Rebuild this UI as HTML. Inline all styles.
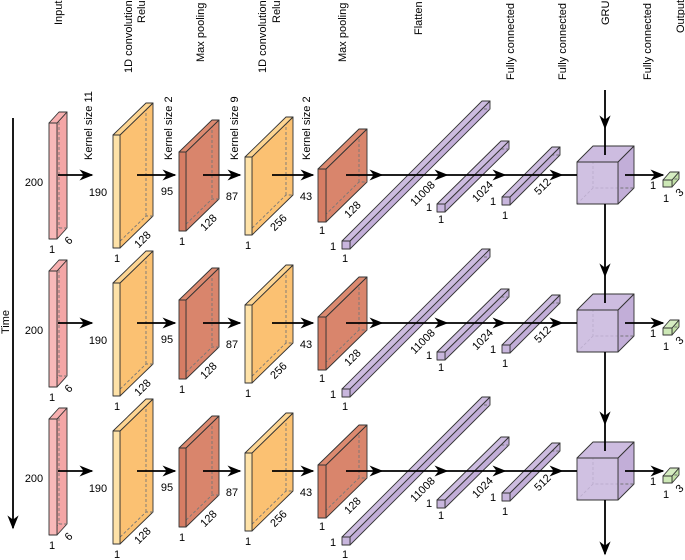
<!DOCTYPE html>
<html><head><meta charset="utf-8"><style>
body{margin:0;background:#fff}
svg{display:block;font-family:"Liberation Sans",sans-serif;font-size:11px}
</style></head><body>
<svg id="c" width="685" height="560" viewBox="0 0 685 560">
<defs>
<marker id="ah2" viewBox="0 0 10 10" refX="9" refY="5" markerWidth="14" markerHeight="14" markerUnits="userSpaceOnUse" orient="auto"><path d="M0,1 L10,5 L0,9 L3,5 Z" fill="#000"/></marker></defs>
</svg>
<script>
const layerNames=['input','conv1','pool1','conv2','pool2','flatten','fc1','fc2','gru','output'];
const layerFront=[[49,8,123,116],[113,7,135,113],[179,7,152,79],[245,7,157,78],[318,8,169,53],[342,8,241,8],[437,8,204,8],[502,8,197,8],[577,41,162,42],[663,9,180,7]];
const layerDepth=[[10,-11],[33,-32],[33,-32],[41,-40],[41,-40],[140,-140],[64,-63],[50,-50],[16,-16],[7,-8]];
const layerColors=[['#f8b9b9','#f7b0b0','#f4a6a6'],['#fee2a8','#fdd592','#fbc172'],['#d67d64','#dc8a70','#d9856c'],['#fee2a8','#fdd592','#fbc172'],['#d67d64','#dc8a70','#d9856c'],['#c8b6dd','#cdbce0','#c2aed8'],['#c8b6dd','#cdbce0','#c2aed8'],['#c8b6dd','#cdbce0','#c2aed8'],['#c8b6dd','#cdbce0','#c2aed8'],['#cde8b6','#d6edc2','#c2e0a8']];
const rowOffsets=[0,148,296];
const headers=[['Input',62,25],['1D convolution',132,73],['Relu',145,23],['Max pooling',204,62],['1D convolution',266,73],['Relu',280,23],['Max pooling',346,62],['Flatten',422,35],['Fully connected',514,80],['Fully connected',566,80],['GRU',609,25],['Fully connected',651,80],['Output',684,33]];
const kernels=[['Kernel size 11',92,160],['Kernel size 2',172,160],['Kernel size 9',238,160],['Kernel size 2',310,160]];
const plainLabels=[['200',34,186],['190',98,196],['95',167,195],['87',232,200],['43',306,200],['1',52,253],['1',117,262],['1',182,245],['1',248,249],['1',322,234],['1',333,250],['1',345,262],['1',429,211],['1',441,223],['1',493,205],['1',505,219],['1',653,189],['1',666,202]];
const diagLabels=[['6',69,241],['128',143,240],['128',209,223],['256',279,223],['128',353,210],['11008',423,194],['1024',483,192],['512',543,187],['3',680,193]];
const arrowSegs=[[58,92],[137,175],[203,240],[272,313],[346,382],[382,447],[447,505],[505,562],[562,577],[625,663]];
const svg=document.getElementById('c');
const NS='http://www.w3.org/2000/svg';
function mk(t,a,p){const e=document.createElementNS(NS,t);for(const k in a)e.setAttribute(k,a[k]);(p||svg).appendChild(e);return e;}
function txt(s,x,y,rot,anchor,name,p,db){const a={x:x,y:y,'text-anchor':anchor||'middle',transform:rot?`rotate(${rot} ${x} ${y})`:''};if(db)a['dominant-baseline']='central';const e=mk('text',a,p);e.textContent=s;


return e;}
headers.forEach(h=>{txt(h[0],h[1],h[2],-90,'start','header-label');});
rowOffsets.forEach((off,r)=>{
 const g=mk('g',{});
 
 
 layerFront.forEach((f,i)=>{
  const [x,w,y0,h]=f,[dx,dy]=layerDepth[i],y=y0+off,c=layerColors[i];
  const b=mk('g',{stroke:'#333','stroke-width':0.9,'stroke-linejoin':'round'},g);
  
  
  mk('polygon',{points:`${x+w},${y} ${x+w+dx},${y+dy} ${x+w+dx},${y+h+dy} ${x+w},${y+h}`,fill:c[2]},b);
  mk('polyline',{points:`${x},${y+h} ${x+dx},${y+h+dy} ${x+w+dx},${y+h+dy}`,fill:'none',stroke:'#777','stroke-dasharray':'3,2'},b);
  mk('line',{x1:x+dx,y1:y+dy,x2:x+dx,y2:y+h+dy,stroke:'#777','stroke-dasharray':'3,2'},b);
  mk('polygon',{points:`${x},${y} ${x+w},${y} ${x+w+dx},${y+dy} ${x+dx},${y+dy}`,fill:c[1]},b);
  mk('rect',{x:x,y:y,width:w,height:h,fill:c[0],'fill-opacity':i==8?0.85:1},b);
 });
 arrowSegs.forEach(s=>{const l=mk('line',{x1:s[0],y1:175+off,x2:s[1],y2:175+off,stroke:'#000','stroke-width':1.8,'marker-end':s[1]==577?'':'url(#ah2)'},g);
  
  });
 plainLabels.forEach(l=>txt(l[0],l[1],l[2]+off,0,'middle','dimension-label',g));
 diagLabels.forEach(l=>txt(l[0],l[1],l[2]+off,-45,'middle','dimension-label',g,true));
 if(r==0)kernels.forEach(k=>txt(k[0],k[1],k[2],-90,'start','kernel-size-label',g));
 const top=r==0?90:204+off-148;
 const a1=mk('line',{x1:605,y1:top,x2:605,y2:128+off,stroke:'#000','stroke-width':1.8,'marker-end':'url(#ah2)'},g);
 
 
 mk('line',{x1:605,y1:128+off,x2:605,y2:155+off,stroke:'#000','stroke-width':1.8},g);
});
const a2=mk('line',{x1:605,y1:500,x2:605,y2:554,stroke:'#000','stroke-width':1.8,'marker-end':'url(#ah2)'});


const ta=mk('line',{x1:13,y1:118,x2:13,y2:528,stroke:'#000','stroke-width':1.8,'marker-end':'url(#ah2)'});


txt('Time',9,322,-90,'middle','time-axis-label');
</script>
</body></html>
